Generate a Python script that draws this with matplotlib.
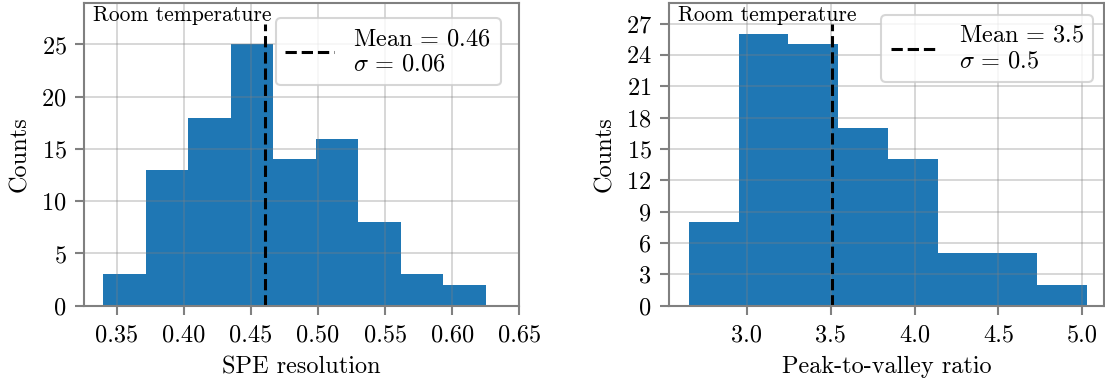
import matplotlib
matplotlib.use("Agg")
import matplotlib.pyplot as plt
import numpy as np

# SPE resolution histogram
spe_edges = [0.3398, 0.3715, 0.4032, 0.4349, 0.4666, 0.4983, 0.5300, 0.5617, 0.5934, 0.6252]
spe_counts = [3, 13, 18, 25, 14, 16, 8, 3, 2]
spe_mean = 0.4602
spe_sigma = 0.06

# Peak-to-valley ratio histogram
pv_edges = [2.6537, 2.9504, 3.2471, 3.5438, 3.8405, 4.1372, 4.4339, 4.7306, 5.0273]
pv_counts = [8, 26, 25, 17, 14, 5, 5, 2]
pv_mean = 3.51
pv_sigma = 0.5

spe_xticks = [0.35, 0.40, 0.45, 0.50, 0.55, 0.60, 0.65]
spe_yticks = [0, 5, 10, 15, 20, 25]
pv_xticks = [3.0, 3.5, 4.0, 4.5, 5.0]
pv_yticks = [0, 3, 6, 9, 12, 15, 18, 21, 24, 27]

plt.rcParams.update({
    "font.family": "cmr10",
    "mathtext.fontset": "cm",
    "axes.formatter.use_mathtext": True,
    "font.size": 17.5,
    "axes.edgecolor": "#808080",
    "axes.linewidth": 1.5,
    "axes.labelpad": 7,
    "xtick.color": "#808080",
    "ytick.color": "#808080",
    "xtick.labelcolor": "black",
    "ytick.labelcolor": "black",
    "xtick.major.size": 6.5,
    "ytick.major.size": 6.5,
    "xtick.major.width": 1.5,
    "ytick.major.width": 1.5,
    "xtick.major.pad": 7,
    "ytick.major.pad": 6,
})

fig = plt.figure(figsize=(11.05, 3.85), dpi=100)
ax1 = fig.add_axes([0.0760, 0.206, 0.3939, 0.787])
ax2 = fig.add_axes([0.6054, 0.206, 0.3937, 0.787])


def draw_panel(ax, edges, counts, mean, sigma, mean_fmt, sigma_fmt,
               xticks, yticks, xlim, xlabel, legend_anchor):
    ax.hist(edges[:-1], bins=edges, weights=counts, color="#1f77b4")
    ax.vlines(mean, 0, 27, colors="black", linestyles="--", linewidth=2.2,
              label=(r"$\mathrm{Mean}\,=\," + format(mean, mean_fmt) + "$\n"
                     r"$\sigma\,=\," + format(sigma, sigma_fmt) + "$"))
    ax.set_xlim(*xlim)
    ax.set_ylim(0, 29)
    ax.set_xticks(xticks)
    ax.set_yticks(yticks)
    ax.xaxis.set_major_formatter(matplotlib.ticker.FormatStrFormatter(
        "%.2f" if xticks[0] < 1 else "%.1f"))
    ax.grid(True, color="gray", alpha=0.4, linewidth=1.1)
    ax.set_xlabel(xlabel)
    ax.set_ylabel("Counts")
    ax.text(0.021, 0.99, "Room temperature", transform=ax.transAxes,
            ha="left", va="top", fontsize=15.5)
    leg = ax.legend(loc="upper right", bbox_to_anchor=legend_anchor,
                    borderaxespad=0, fontsize=17.5)
    leg.get_frame().set_linewidth(1.5)


draw_panel(ax1, spe_edges, spe_counts, spe_mean, spe_sigma, ".2f", ".2f",
           spe_xticks, spe_yticks, (0.3255, 0.65), "SPE resolution",
           (0.957, 0.9485))
draw_panel(ax2, pv_edges, pv_counts, pv_mean, pv_sigma, ".1f", ".1f",
           pv_xticks, pv_yticks, (2.535, 5.13), "Peak-to-valley ratio",
           (0.9754, 0.959))

fig.savefig("out.png", dpi=100)
